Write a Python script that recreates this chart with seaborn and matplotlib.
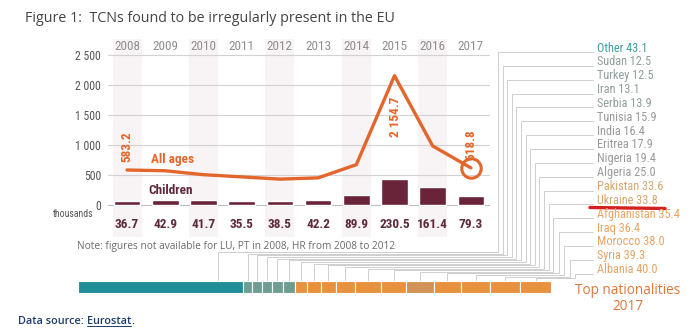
import matplotlib
matplotlib.use("Agg")
import matplotlib.pyplot as plt
from matplotlib import font_manager
import seaborn as sns
import numpy as np
import pandas as pd

# ---------------- data ----------------
years = ["2008", "2009", "2010", "2011", "2012", "2013", "2014", "2015", "2016", "2017"]
all_ages = [583.2, 570.7, 505.2, 468.5, 431.3, 452.4, 672.2, 2154.7, 983.9, 618.8]
children = [36.7, 42.9, 41.7, 35.5, 38.5, 42.2, 89.9, 230.5, 161.4, 79.3]
children_labels = ["36.7", "42.9", "41.7", "35.5", "38.5", "42.2", "89.9", "230.5", "161.4", "79.3"]
y_ticks = [0, 500, 1000, 1500, 2000, 2500]
y_tick_labels = ["0", "500", "1 000", "1 500", "2 000", "2 500"]
line_value_labels = {0: "583.2", 7: "2 154.7", 9: "618.8"}

nationalities = ["Other", "Sudan", "Turkey", "Iran", "Serbia", "Tunisia", "India", "Eritrea",
                 "Nigeria", "Algeria", "Pakistan", "Ukraine", "Afghanistan", "Iraq", "Morocco",
                 "Syria", "Albania"]
nat_label_values = ["43.1", "12.5", "12.5", "13.1", "13.9", "15.9", "16.4", "17.9", "19.4",
                    "25.0", "33.6", "33.8", "35.4", "36.4", "38.0", "39.3", "40.0"]
bar_segments = [215.7, 12.5, 12.5, 13.1, 13.9, 15.9, 16.4, 17.9, 19.4, 25.0, 33.6, 33.8,
                35.4, 36.4, 38.0, 39.3, 40.0]

# ---------------- style ----------------
sns.set_theme(style="white")
names = {f.name for f in font_manager.fontManager.ttflist}
def pick(cands):
    for c in cands:
        if c in names:
            return c
    return "DejaVu Sans"
COND = pick(["Liberation Sans Narrow", "Roboto Condensed", "DejaVu Sans Condensed",
             "Open Sans Condensed", "Roboto"])
BODY = pick(["Open Sans", "Lato", "DejaVu Sans"])
plt.rcParams["font.family"] = [BODY, "DejaVu Sans"]

ORANGE = "#e3662c"
MAROON = "#6a2439"
MAROON_TXT = "#5e2a3c"
BAND = "#f8f3f4"
GRID = "#d2d2d2"

W, H = 700, 330
fig = plt.figure(figsize=(W / 100, H / 100), dpi=100)
fig.patch.set_facecolor("white")

def rect(x0, y0, x1, y1):
    return [x0 / W, 1 - y1 / H, (x1 - x0) / W, (y1 - y0) / H]

# main axes: 0 at y=205px, 2500 at y=55px
ppu = 0.06
ax = fig.add_axes(rect(108, 39, 490, 237))
ax.set_xlim(-0.5, len(years) - 0.5)
lo, hi = (205 - 237) / ppu, (205 - 39) / ppu
ax.set_ylim(lo, hi)
for s in ax.spines.values():
    s.set_visible(False)
ax.set_facecolor("none")

for i in range(0, len(years), 2):
    ax.axvspan(i - 0.38, i + 0.38, color=BAND, zorder=0, lw=0)
for t in y_ticks:
    ax.axhline(t, color=GRID if t else "#bdbdbd", lw=0.8, zorder=1)

ax.set_xticks([])
ax.set_yticks(y_ticks)
ax.set_yticklabels(y_tick_labels, fontfamily=COND, fontsize=8.5, color="#555555")
ax.tick_params(axis="y", length=0, pad=5)
ax.set_ylabel("")

# line
df_line = pd.DataFrame({"pos": np.arange(len(years)), "value": all_ages})
sns.lineplot(data=df_line, x="pos", y="value", ax=ax, color=ORANGE, lw=2.4, zorder=4,
             legend=False)
ax.plot([len(years) - 1], [all_ages[-1]], "o", ms=14, mfc="none", mec=ORANGE, mew=2.2,
        zorder=5)
ax.set_xlabel("")
ax.set_ylabel("")

offsets = {0: (0, 6, "bottom"), 7: (1, -15, "top"), 9: (0, 6, "bottom")}
for i, lab in line_value_labels.items():
    dx, dy, va = offsets[i]
    ax.annotate(lab, (i, all_ages[i]), xytext=(dx, dy), textcoords="offset points",
                rotation=90, ha="center", va=va, color=ORANGE, fontfamily=COND,
                fontsize=9.5, fontweight="bold", zorder=6)

ax.text(1.2, 750, "All ages", color=ORANGE, fontfamily=COND, fontsize=9.5,
        fontweight="bold", ha="center", va="center", zorder=6)
ax.text(1.15, 235, "Children", color=MAROON_TXT, fontfamily=COND, fontsize=9.5,
        fontweight="bold", ha="center", va="center", zorder=6)

for i, y in enumerate(years):
    ax.text(i, (205 - 47) / ppu, y, ha="center", va="center", color="#8f8f8f",
            fontfamily=COND, fontsize=9.5)
    ax.text(i, (205 - 225) / ppu, children_labels[i], ha="center", va="center",
            color=MAROON_TXT, fontfamily=COND, fontsize=9.5, fontweight="bold")

# children bars on a twin axis with their own scale
ax2 = ax.twinx()
cscale = 1.85
ax2.set_ylim(lo / cscale, hi / cscale)
df_child = pd.DataFrame({"year": years, "children": children})
sns.barplot(data=df_child, x="year", y="children", ax=ax2, color=MAROON, width=0.7,
            saturation=1, zorder=3)
ax2.set_xlim(-0.5, len(years) - 0.5)
ax2.set_ylim(lo / cscale, hi / cscale)
ax2.set_xticks([])
ax2.set_yticks([])
ax2.set_xlabel("")
ax2.set_ylabel("")
for s in ax2.spines.values():
    s.set_visible(False)

# ---------------- stacked nationality bar ----------------
BX0, BX1, BY0, BY1 = 78, 551, 281, 293
axb = fig.add_axes(rect(BX0, BY0, BX1, BY1))
seg_colors = (["#1f8e97"] + ["#6e9d92"] * 5 + ["#e8913f"] * 6 + ["#d39257"] +
              ["#e8913f"] * 4)
total = float(np.sum(bar_segments))
lefts = np.concatenate([[0], np.cumsum(bar_segments)[:-1]])
axb.barh([0] * len(bar_segments), bar_segments, left=lefts, color=seg_colors,
         height=1.0, edgecolor="white", linewidth=0.8)
axb.set_xlim(0, total)
axb.set_ylim(-0.5, 0.5)
axb.axis("off")

# ---------------- overlay (pixel coords) ----------------
ov = fig.add_axes([0, 0, 1, 1], zorder=-1)
ov.set_xlim(0, W)
ov.set_ylim(H, 0)
ov.axis("off")

label_colors = (["#3a9ea5"] + ["#8fa09d"] * 4 + ["#9a9a9a"] * 5 + ["#d9a56f"] * 2 +
                ["#e9a463"] * 5)
LX = 597
for i, (nm, v) in enumerate(zip(nationalities, nat_label_values)):
    cy = 48 + i * 13.85
    ov.text(LX, cy, f"{nm} {v}", ha="left", va="center", color=label_colors[i],
            fontfamily=COND, fontsize=8.8)
    ly = cy + 4
    vx = 498 + i * 4.6 if i < 12 else 553 + (i - 12) * 5.5
    hy = 252 + i * 1.65
    frac = 0.85 if i == 0 else 0.5
    tx = BX0 + (lefts[i] + frac * bar_segments[i]) / total * (BX1 - BX0)
    ov.plot([LX - 4, vx, vx, tx, tx], [ly, ly, hy, hy, BY0], color="#cfcfcf", lw=0.7,
            solid_joinstyle="miter")

# red underline
ov.plot([590, 665], [207.5, 208.5], color="#d42020", lw=2.4, solid_capstyle="round")

ov.text(628, 291, "Top nationalities", ha="center", va="center", color="#e0763a",
        fontsize=9.8)
ov.text(628, 306, "2017", ha="center", va="center", color="#e0763a", fontsize=9.8)

ov.text(25, 18, "Figure 1:  TCNs found to be irregularly present in the EU", ha="left",
        va="center", color="#444444", fontsize=10.3)
ov.text(77, 246, "Note: figures not available for LU, PT in 2008, HR from 2008 to 2012",
        ha="left", va="center", color="#6a6a6a", fontsize=7.3)
ov.text(73, 214, "thousands", ha="center", va="center", color="#555555",
        fontfamily=COND, fontsize=7)

# data source with underlined link
renderer = fig.canvas.get_renderer()
t1 = ov.text(18, 321, "Data source: ", ha="left", va="center", color="#1d3d6e",
             fontsize=7.8, fontweight="semibold")
bb = t1.get_window_extent(renderer=renderer)
x_after = bb.x1 * W / (fig.get_figwidth() * fig.dpi)
t2 = ov.text(x_after, 321, "Eurostat", ha="left", va="center", color="#1d3d6e",
             fontsize=7.8, fontweight="semibold")
bb2 = t2.get_window_extent(renderer=renderer)
x_end = bb2.x1 * W / (fig.get_figwidth() * fig.dpi)
ov.text(x_end, 321, ".", ha="left", va="center", color="#1d3d6e", fontsize=7.8,
        fontweight="semibold")
ov.plot([x_after, x_end], [326, 326], color="#1d3d6e", lw=0.7)

fig.savefig("out.png", dpi=100)
